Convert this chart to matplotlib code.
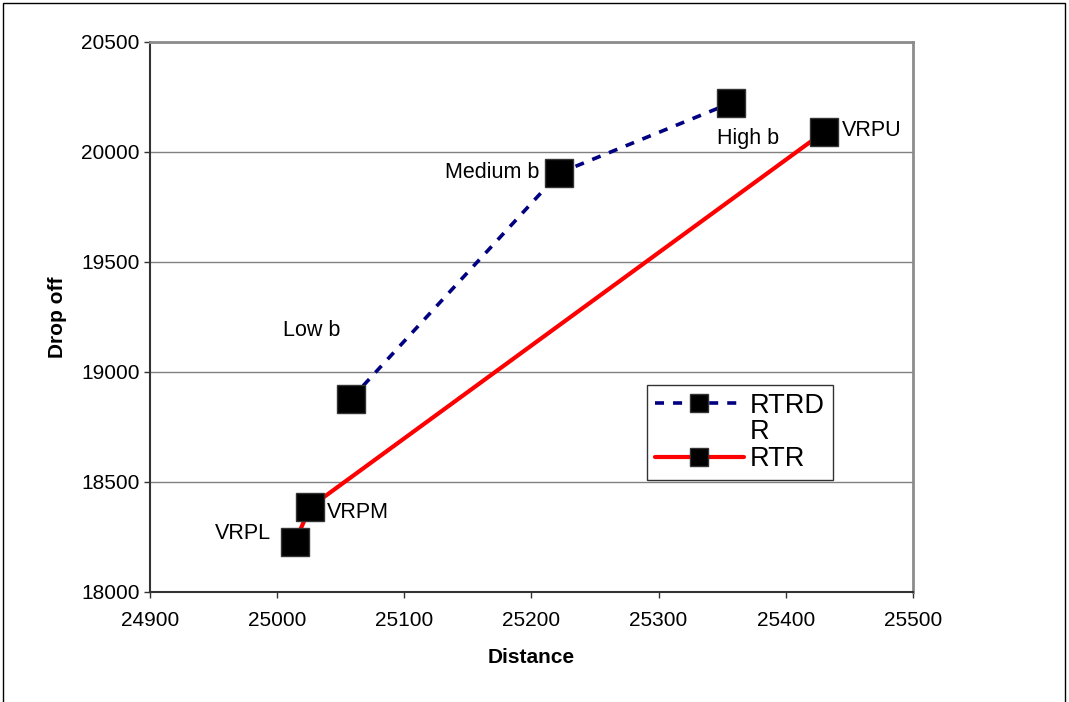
import numpy as np
import matplotlib.pyplot as plt
from matplotlib.patches import Rectangle
from matplotlib.legend_handler import HandlerLine2D

plt.rcParams['font.family'] = ['Liberation Sans', 'DejaVu Sans']

# dashed series: low / medium / high b
rtrdr_dist = [25058, 25222, 25357]
rtrdr_drop = [18877, 19905, 20223]
rtrdr_names = ['Low b', 'Medium b', 'High b']

# solid series: VRP points
rtr_dist = [25014, 25026, 25430]
rtr_drop = [18227, 18386, 20091]
rtr_names = ['VRPL', 'VRPM', 'VRPU']

x_ticks = [24900, 25000, 25100, 25200, 25300, 25400, 25500]
y_ticks = [18000, 18500, 19000, 19500, 20000, 20500]


class RaisedLineHandler(HandlerLine2D):
    """Line handler that sits on the first line of a wrapped label."""
    def __init__(self, dy, **kw):
        super().__init__(**kw)
        self.dy = dy

    def create_artists(self, legend, orig_handle, xdescent, ydescent,
                       width, height, fontsize, trans):
        artists = super().create_artists(legend, orig_handle, xdescent, ydescent,
                                         width, height, fontsize, trans)
        for a in artists:
            a.set_ydata(np.asarray(a.get_ydata()) + self.dy)
        return artists


fig = plt.figure(figsize=(10.69, 7.02), dpi=100)
ax = fig.add_axes([0.1403, 0.1567, 0.7137, 0.7835])

marker_style = dict(marker='s', markersize=20, markerfacecolor='black',
                    markeredgecolor='#333333', markeredgewidth=1)

line_b, = ax.plot(rtrdr_dist, rtrdr_drop, color='#000080', linewidth=2.6,
                  linestyle=(0, (2.5, 2.5)), label='RTRD\nR', zorder=3, **marker_style)
line_v, = ax.plot(rtr_dist, rtr_drop, color='#ff0000', linewidth=3,
                  solid_capstyle='round', label='RTR', zorder=3, **marker_style)

ax.set_xlim(x_ticks[0], x_ticks[-1])
ax.set_ylim(y_ticks[0], y_ticks[-1])
ax.set_xticks(x_ticks)
ax.set_yticks(y_ticks)
ax.tick_params(labelsize=15, length=4.5, width=1, color='#333333', direction='out')
ax.tick_params(axis='x', pad=9)
ax.tick_params(axis='y', pad=3)

ax.yaxis.grid(True, color='#808080', linewidth=1)
ax.set_axisbelow(True)
for side in ['left', 'bottom']:
    ax.spines[side].set_color('#333333')
    ax.spines[side].set_linewidth(1.5)
for side in ['top', 'right']:
    ax.spines[side].set_color('#8c8c8c')
    ax.spines[side].set_linewidth(2)

ax.set_xlabel('Distance', fontsize=15, fontweight='bold', labelpad=13)
ax.set_ylabel('Drop off', fontsize=15, fontweight='bold', labelpad=10)

# point labels
lbl = dict(fontsize=15.5, va='center')
ax.annotate(rtrdr_names[0], (rtrdr_dist[0], rtrdr_drop[0]), xytext=(-39, 69),
            textcoords='offset pixels', ha='center', **lbl)
ax.annotate(rtrdr_names[1], (rtrdr_dist[1], rtrdr_drop[1]), xytext=(-20, 0),
            textcoords='offset pixels', ha='right', **lbl)
ax.annotate(rtrdr_names[2], (rtrdr_dist[2], rtrdr_drop[2]), xytext=(17, -36),
            textcoords='offset pixels', ha='center', **lbl)
ax.annotate(rtr_names[0], (rtr_dist[0], rtr_drop[0]), xytext=(-24, 9),
            textcoords='offset pixels', ha='right', **lbl)
ax.annotate(rtr_names[1], (rtr_dist[1], rtr_drop[1]), xytext=(17, -5),
            textcoords='offset pixels', ha='left', **lbl)
ax.annotate(rtr_names[2], (rtr_dist[2], rtr_drop[2]), xytext=(18, 1),
            textcoords='offset pixels', ha='left', **lbl)

leg = ax.legend(loc='upper left', bbox_to_anchor=(0.651, 0.376), fontsize=19.5,
                frameon=True, fancybox=False, handlelength=3.3, markerscale=0.62,
                borderpad=0.3, labelspacing=0.03, handletextpad=0.2, borderaxespad=0,
                handler_map={line_b: RaisedLineHandler(dy=12)})
for t in leg.get_texts():
    t.set_linespacing(1.0)
leg.get_frame().set_edgecolor('black')
leg.get_frame().set_linewidth(1)

# outer chart border
fig.patches.append(Rectangle((0.003, -0.01), 0.993, 1.006, transform=fig.transFigure,
                             fill=False, edgecolor='black', linewidth=1))

fig.savefig('out.png', dpi=100)
